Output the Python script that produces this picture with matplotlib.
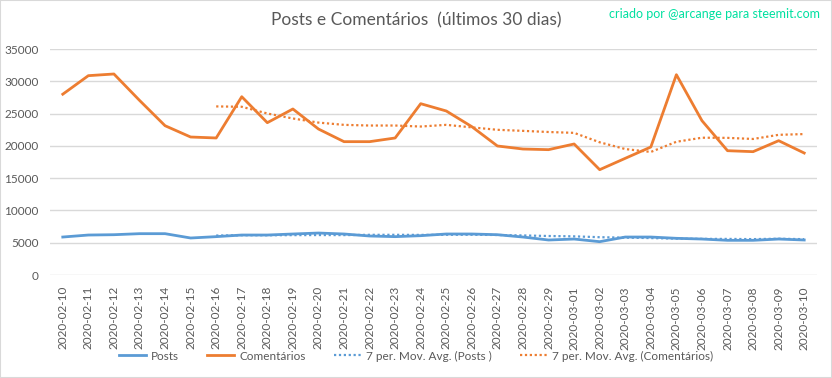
import numpy as np
import pandas as pd
import matplotlib
matplotlib.use("Agg")
import matplotlib.pyplot as plt
from matplotlib.patches import Rectangle

plt.rcParams['font.family'] = ['Lato', 'DejaVu Sans']

# dates (2020 is a leap year -> 30 days)
dates = ["2020-02-10", "2020-02-11", "2020-02-12", "2020-02-13", "2020-02-14",
         "2020-02-15", "2020-02-16", "2020-02-17", "2020-02-18", "2020-02-19",
         "2020-02-20", "2020-02-21", "2020-02-22", "2020-02-23", "2020-02-24",
         "2020-02-25", "2020-02-26", "2020-02-27", "2020-02-28", "2020-02-29",
         "2020-03-01", "2020-03-02", "2020-03-03", "2020-03-04", "2020-03-05",
         "2020-03-06", "2020-03-07", "2020-03-08", "2020-03-09", "2020-03-10"]

posts = [5880, 6190, 6240, 6400, 6400, 5730, 5940, 6190, 6190, 6350,
         6500, 6350, 6040, 5940, 6090, 6350, 6350, 6240, 5880, 5420,
         5570, 5160, 5880, 5880, 5680, 5570, 5370, 5370, 5570, 5420]

comentarios = [28000, 30870, 31130, 27050, 23120, 21370, 21220, 27610, 23590, 25710,
               22610, 20650, 20650, 21220, 26530, 25400, 22970, 19980, 19510, 19410,
               20290, 16310, 18070, 19820, 31020, 23900, 19250, 19100, 20800, 18890]

# 7 period moving average trendlines (as in the spreadsheet)
posts_ma = pd.Series(posts).rolling(7).mean()
coment_ma = pd.Series(comentarios).rolling(7).mean()

blue = "#5B9BD5"
orange = "#ED7D31"
txt = "#595959"
grid = "#D9D9D9"

fig = plt.figure(figsize=(8.32, 3.78), dpi=100)
ax = fig.add_axes([50 / 832, 1 - 275 / 378, 767 / 832, 226 / 378])

x = np.arange(len(dates))
ax.plot(x, posts, color=blue, lw=2.0, label="Posts", solid_joinstyle="round")
ax.plot(x, comentarios, color=orange, lw=2.0, label="Comentários", solid_joinstyle="round")
ax.plot(x, posts_ma, color=blue, lw=1.6, ls=(0, (1, 1.2)), label="7 per. Mov. Avg. (Posts )")
ax.plot(x, coment_ma, color=orange, lw=1.6, ls=(0, (1, 1.2)), label="7 per. Mov. Avg. (Comentários)")

ax.set_xlim(-0.5, len(dates) - 0.5)
ax.set_ylim(0, 35000)
ax.set_yticks(np.arange(0, 35001, 5000))
ax.set_xticks(x)
ax.set_xticklabels(dates, rotation=90)
ax.tick_params(axis="both", length=0, colors=txt, labelsize=8.5)
ax.tick_params(axis="y", pad=8)
ax.tick_params(axis="x", pad=8)
ax.grid(axis="y", color=grid, lw=1)
ax.set_axisbelow(True)
for s in ax.spines.values():
    s.set_visible(False)

fig.text(0.5, 1 - 20 / 378, "Posts e Comentários  (últimos 30 dias)", ha="center", va="center",
         fontsize=12.5, color=txt)
fig.text(820 / 832, 1 - 14 / 378, "criado por @arcange para steemit.com", ha="right", va="center",
         fontsize=9, color="#00E0A0")

fig.legend(loc="center", bbox_to_anchor=(0.5, 1 - 356 / 378), ncol=4, frameon=False,
           fontsize=8.5, labelcolor=txt, handlelength=2.3, handletextpad=0.4,
           columnspacing=2.4)

fig.patches.append(Rectangle((0, 0), 1, 1, transform=fig.transFigure, fill=False,
                             edgecolor=grid, lw=1.5))

fig.savefig("out.png", dpi=100)
